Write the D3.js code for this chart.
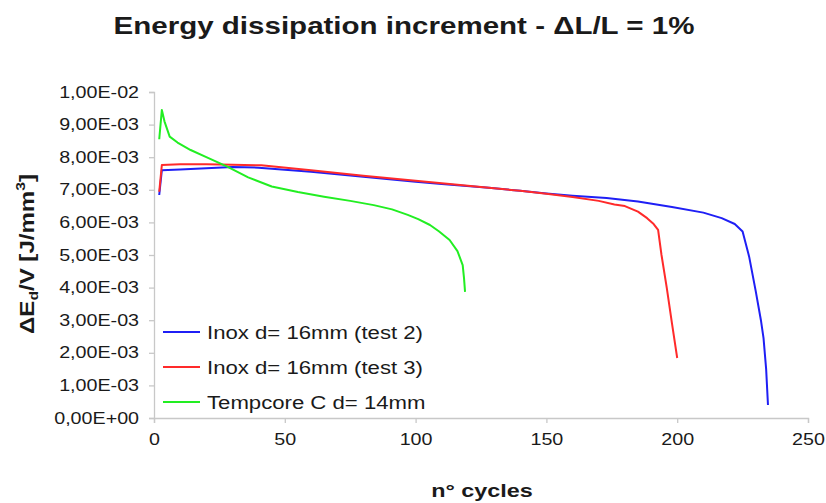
<!DOCTYPE html>
<html>
<head>
<meta charset="utf-8">
<script src="https://cdn.jsdelivr.net/npm/d3@7"></script>
<style>
  body { margin: 0; background: #fff; }
  text { font-family: "Liberation Sans", Arial, sans-serif; fill: #1a1a1a; }
</style>
</head>
<body>
<svg id="chart" width="826" height="503"></svg>
<script>
// data (cycle, value in 1e-3 J/mm3)
var inoxTest2 = [[2,6.84],[3,7.6],[10,7.62],[20,7.66],[30,7.7],[40,7.68],[60,7.55],[80,7.4],[100,7.25],[110,7.18],
  [128,7.06],[140,6.97],[150,6.89],[160,6.82],[173,6.75],[185,6.64],[198,6.47],[210,6.3],[217,6.13],[222,5.95],
  [225,5.72],[227.5,4.95],[230,3.9],[232,3.0],[233,2.45],[234,1.5],[234.7,0.4]];
var inoxTest3 = [[2,6.94],[3,7.76],[10,7.78],[20,7.78],[30,7.77],[41,7.75],[60,7.6],[80,7.43],[100,7.28],[128,7.06],
  [140,6.97],[150,6.88],[160,6.78],[170,6.66],[176,6.55],[180,6.5],[185,6.33],[188.5,6.13],[191,5.95],[192.7,5.77],
  [194,5.0],[196,4.0],[198,2.9],[200,1.84]];
var tempcore = [[2,8.55],[3,9.45],[4,9.1],[6,8.63],[9,8.45],[14,8.22],[20,8.0],[28,7.71],[36,7.38],[45,7.1],
  [55,6.93],[65,6.79],[75,6.66],[84,6.53],[91,6.4],[97,6.23],[101,6.1],[105.5,5.92],[109,5.72],[113,5.46],
  [116,5.12],[118,4.69],[118.5,4.3],[118.9,3.87]];

var seriesNames = ["Inox d= 16mm (test 2)", "Inox d= 16mm (test 3)", "Tempcore C d= 14mm"];
var seriesColors = ["#1f1ff5", "#ff2a2a", "#22ee22"];
var seriesData = [inoxTest2, inoxTest3, tempcore];

var xTicks = [0, 50, 100, 150, 200, 250];
var yTicks = [0, 1, 2, 3, 4, 5, 6, 7, 8, 9, 10];
var yTickLabels = ["0,00E+00","1,00E-03","2,00E-03","3,00E-03","4,00E-03","5,00E-03",
  "6,00E-03","7,00E-03","8,00E-03","9,00E-03","1,00E-02"];

var stretch = 1.23; // the picture is a bit wider than the text it was made with

var svg = d3.select("#chart");

var x = d3.scaleLinear().domain([0, 250]).range([154, 808]);
var y = d3.scaleLinear().domain([0, 10]).range([418, 92]);

// axes
var xAxis = svg.append("g")
    .attr("transform", "translate(0,418)")
    .call(d3.axisBottom(x).tickValues(xTicks).tickSize(5).tickPadding(11));
var yAxis = svg.append("g")
    .attr("transform", "translate(154,0)")
    .call(d3.axisLeft(y).tickValues(yTicks).tickSize(5).tickPadding(10)
      .tickFormat(function(d, i) { return yTickLabels[i]; }));

svg.selectAll(".domain, .tick line").attr("stroke", "#c8c8c8").attr("stroke-width", 1.3);
xAxis.selectAll("text").style("font-size", "16px").attr("fill", "#1a1a1a");
yAxis.selectAll("text").style("font-size", "16px").attr("fill", "#1a1a1a");

// lines
var line = d3.line()
    .x(function(d) { return x(d[0]); })
    .y(function(d) { return y(d[1]); });

seriesData.forEach(function(s, i) {
  svg.append("path")
      .datum(s)
      .attr("fill", "none")
      .attr("stroke", seriesColors[i])
      .attr("stroke-width", 2)
      .attr("stroke-linejoin", "round")
      .attr("d", line);
});

// legend
var legend = svg.append("g").attr("class", "legend");
seriesNames.forEach(function(name, i) {
  var ly = 332 + i * 35;
  legend.append("line")
      .attr("x1", 163).attr("x2", 200)
      .attr("y1", ly).attr("y2", ly)
      .attr("stroke", seriesColors[i])
      .attr("stroke-width", 2);
  legend.append("text")
      .attr("x", 207).attr("y", ly + 6.5)
      .style("font-size", "18px")
      .text(name);
});

// title
svg.append("text")
    .attr("x", 404).attr("y", 34)
    .attr("text-anchor", "middle")
    .style("font-size", "24px")
    .style("font-weight", "bold")
    .text("Energy dissipation increment - \u0394L/L = 1%");

// x label
svg.append("text")
    .attr("x", 482).attr("y", 497)
    .attr("text-anchor", "middle")
    .style("font-size", "19px")
    .style("font-weight", "bold")
    .text("n\u00b0 cycles");

// stretch horizontal text to the picture's proportions
svg.selectAll("text").each(function() {
  var len = this.getComputedTextLength();
  d3.select(this).attr("textLength", len * stretch).attr("lengthAdjust", "spacingAndGlyphs");
});

// y label (rotated)
var yl = svg.append("text")
    .attr("transform", "translate(34,254) rotate(-90)")
    .attr("text-anchor", "middle")
    .attr("textLength", 160)
    .attr("lengthAdjust", "spacingAndGlyphs")
    .style("font-size", "20px")
    .style("font-weight", "bold");
yl.append("tspan").text("\u0394E");
yl.append("tspan").attr("dy", 4).style("font-size", "13px").text("d");
yl.append("tspan").attr("dy", -4).text("/V [J/mm");
yl.append("tspan").attr("dy", -9).style("font-size", "13px").text("3");
yl.append("tspan").attr("dy", 9).text("]");
</script>
</body>
</html>
